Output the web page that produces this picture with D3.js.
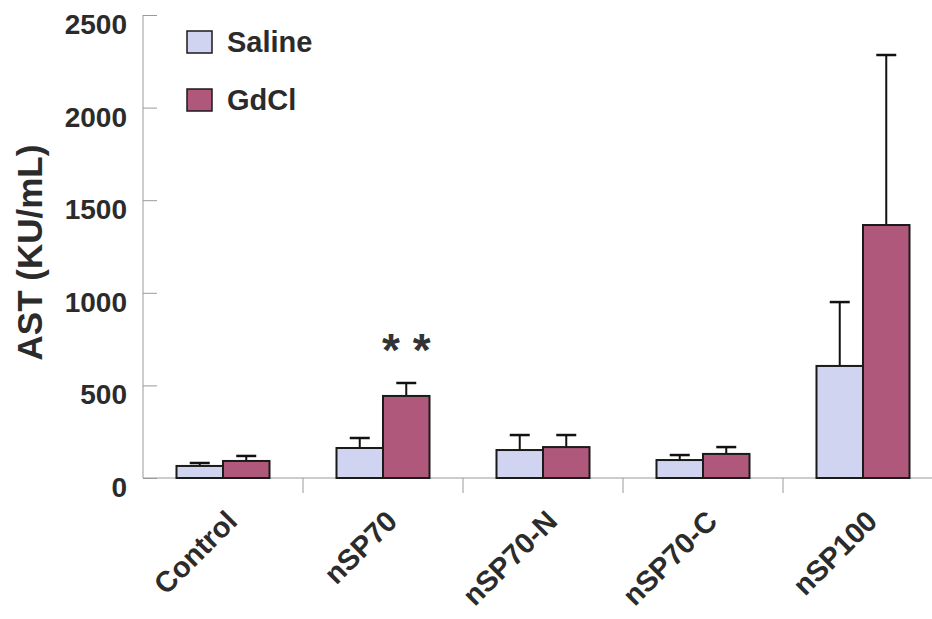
<!DOCTYPE html>
<html>
<head>
<meta charset="utf-8">
<script src="https://cdn.jsdelivr.net/npm/d3@7/dist/d3.min.js"></script>
<style>
  body { margin: 0; background: #ffffff; }
  svg { display: block; font-family: "Liberation Sans", Arial, sans-serif; }
</style>
</head>
<body>
<div id="chart"></div>
<script>
const CATEGORIES = ["Control", "nSP70", "nSP70-N", "nSP70-C", "nSP100"];
const SALINE_MEAN = [65, 162, 151, 97, 605];
const SALINE_ERR = [16, 54, 81, 27, 345];
const GDCL_MEAN = [92, 443, 167, 130, 1366];
const GDCL_ERR = [27, 70, 65, 37, 918];
const Y_TICKS = [0, 500, 1000, 1500, 2000, 2500];

const SERIES = [
  { key: "saline", label: "Saline", color: "#d1d4f0", mean: SALINE_MEAN, err: SALINE_ERR },
  { key: "gdcl", label: "GdCl", color: "#b0587b", mean: GDCL_MEAN, err: GDCL_ERR },
];

const width = 932;
const height = 619;
const margin = { top: 15, right: -11, bottom: 141, left: 143 };
const axisColor = "#9a9a9a";
const textColor = "#2b2b2b";

const svg = d3
  .select("#chart")
  .append("svg")
  .attr("width", width)
  .attr("height", height);

const x = d3
  .scaleBand()
  .domain(CATEGORIES)
  .range([margin.left, width - margin.right])
  .padding(0);

const x1 = d3
  .scaleBand()
  .domain(SERIES.map((s) => s.key))
  .range([0, x.bandwidth()])
  .paddingInner(0)
  .paddingOuter(0.72);

const y = d3
  .scaleLinear()
  .domain([0, 2500])
  .range([height - margin.bottom, margin.top]);

const y0 = y(0);

// y axis: line with inward ticks
const yAxis = svg
  .append("g")
  .attr("transform", `translate(${margin.left},0)`)
  .call(d3.axisRight(y).tickValues(Y_TICKS).tickSize(14).tickFormat(""));
yAxis.select(".domain").attr("stroke", axisColor).attr("d", `M0,${y(2500)}V${y0}`);
yAxis.selectAll(".tick line").attr("stroke", axisColor);

svg
  .append("g")
  .selectAll("text")
  .data(Y_TICKS)
  .join("text")
  .attr("x", margin.left - 16)
  .attr("y", (d) => y(d) + 19)
  .attr("text-anchor", "end")
  .attr("font-size", 28)
  .attr("font-weight", 700)
  .attr("fill", textColor)
  .text((d) => d);

// x axis: baseline with ticks between categories
svg
  .append("line")
  .attr("x1", margin.left)
  .attr("x2", width)
  .attr("y1", y0)
  .attr("y2", y0)
  .attr("stroke", axisColor);

svg
  .append("g")
  .selectAll("line")
  .data(CATEGORIES.slice(1))
  .join("line")
  .attr("x1", (d) => x(d))
  .attr("x2", (d) => x(d))
  .attr("y1", y0)
  .attr("y2", y0 + 15)
  .attr("stroke", axisColor);

svg
  .append("g")
  .selectAll("text")
  .data(CATEGORIES)
  .join("text")
  .attr("transform", (d) => `translate(${x(d) + x.bandwidth() / 2 + 16},${y0 + 45}) rotate(-45)`)
  .attr("text-anchor", "end")
  .attr("font-size", 29)
  .attr("font-weight", 700)
  .attr("fill", textColor)
  .text((d) => d);

// y label
svg
  .append("text")
  .attr("transform", `translate(42,${(y(2500) + y0) / 2 + 6}) rotate(-90)`)
  .attr("text-anchor", "middle")
  .attr("font-size", 35)
  .attr("font-weight", 700)
  .attr("fill", textColor)
  .text("AST (KU/mL)");

// bars and error bars
const groups = svg
  .append("g")
  .selectAll("g")
  .data(CATEGORIES)
  .join("g")
  .attr("transform", (d) => `translate(${x(d)},0)`);

SERIES.forEach((series) => {
  const bx = x1(series.key);
  const bw = x1.bandwidth();

  groups
    .append("line")
    .attr("x1", bx + bw / 2)
    .attr("x2", bx + bw / 2)
    .attr("y1", (d, i) => y(series.mean[i]))
    .attr("y2", (d, i) => y(series.mean[i] + series.err[i]))
    .attr("stroke", "#111")
    .attr("stroke-width", 2);

  groups
    .append("line")
    .attr("x1", bx + bw / 2 - 10)
    .attr("x2", bx + bw / 2 + 10)
    .attr("y1", (d, i) => y(series.mean[i] + series.err[i]))
    .attr("y2", (d, i) => y(series.mean[i] + series.err[i]))
    .attr("stroke", "#111")
    .attr("stroke-width", 2.5);

  groups
    .append("rect")
    .attr("x", bx)
    .attr("width", bw)
    .attr("y", (d, i) => y(series.mean[i]))
    .attr("height", (d, i) => y0 - y(series.mean[i]))
    .attr("fill", series.color)
    .attr("stroke", "#1a1a1a")
    .attr("stroke-width", 2);
});

// significance mark
svg
  .append("text")
  .attr("x", x("nSP70") + x1("gdcl") + x1.bandwidth() / 2)
  .attr("y", y(GDCL_MEAN[1] + GDCL_ERR[1]) - 17)
  .attr("text-anchor", "middle")
  .attr("font-size", 46)
  .attr("font-weight", 700)
  .attr("fill", "#333")
  .text("* *");

// legend
const legend = svg.append("g").attr("transform", "translate(187,31)");
SERIES.forEach((series, index) => {
  const row = legend.append("g").attr("transform", `translate(0,${index * 58})`);
  row
    .append("rect")
    .attr("width", 25)
    .attr("height", 22)
    .attr("fill", series.color)
    .attr("stroke", "#1a1a1a")
    .attr("stroke-width", 1.5);
  row
    .append("text")
    .attr("x", 40)
    .attr("y", 21)
    .attr("font-size", 29)
    .attr("font-weight", 700)
    .attr("fill", textColor)
    .text(series.label);
});
</script>
</body>
</html>
